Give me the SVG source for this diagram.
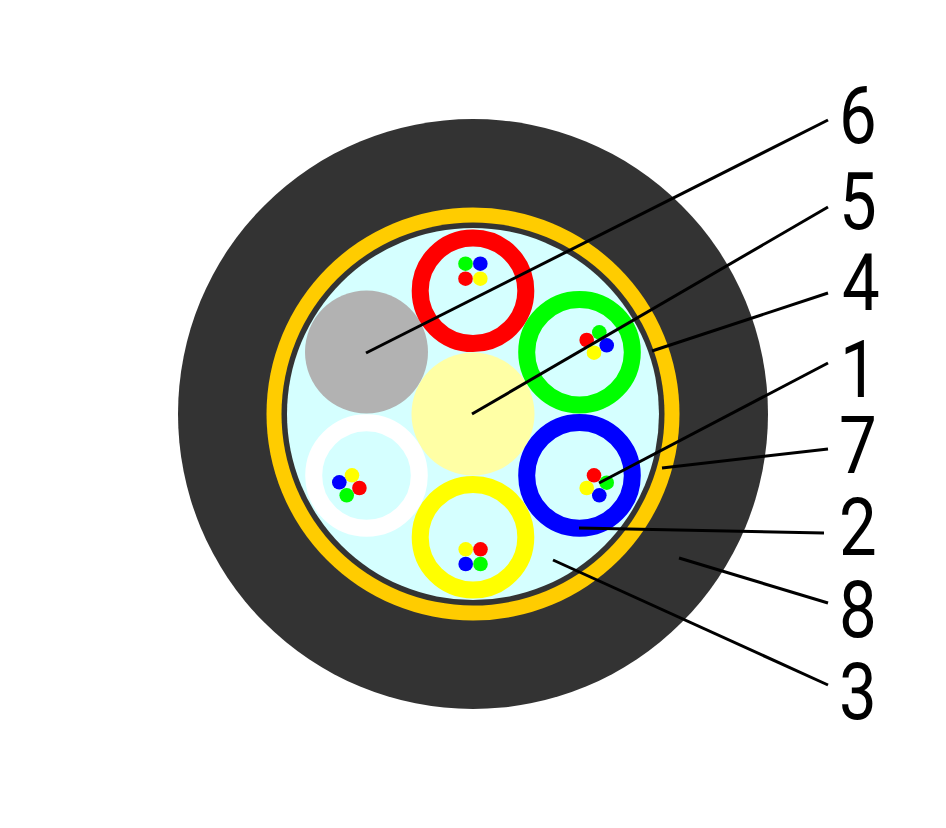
<svg xmlns="http://www.w3.org/2000/svg" width="946" height="828" viewBox="0 0 946 828">
<style>
.ring{fill:#d5ffff;stroke-width:17}
.r{fill:#f00}.g{fill:#0f0}.b{fill:#00f}.y{fill:#ff0}
.l{stroke:#000;stroke-width:3;fill:none}
text{font-family:"Roboto","Liberation Sans",sans-serif;font-weight:400;font-size:80px;fill:#000}
</style>
<rect width="946" height="828" fill="#fff"/>
<g id="sheath"><circle cx="473" cy="414" r="295" fill="#333"/></g>
<g id="armor"><circle cx="473" cy="414" r="206.5" fill="#fc0"/></g>
<g id="inner-sheath"><circle cx="473" cy="414" r="191.5" fill="#333"/></g>
<g id="gel"><circle cx="473" cy="414" r="186" fill="#d5ffff"/></g>
<g id="filler"><circle cx="366.5" cy="352" r="61.5" fill="#b2b2b2"/></g>
<g id="core"><circle cx="473" cy="414" r="61.5" fill="#ffffa5"/></g>
<g id="tube-red"><circle class="ring" cx="473" cy="290.8" r="52.8" stroke="#f00"/>
<circle class="g" cx="465.5" cy="263.7" r="7.3"/><circle class="b" cx="480.3" cy="263.7" r="7.3"/><circle class="r" cx="465.5" cy="278.7" r="7.3"/><circle class="y" cx="480.3" cy="278.7" r="7.3"/></g>
<g id="tube-green"><circle class="ring" cx="579.5" cy="352.2" r="52.8" stroke="#0f0"/>
<circle class="g" cx="599.3" cy="332.3" r="7.3"/><circle class="b" cx="606.7" cy="345.3" r="7.3"/><circle class="y" cx="594" cy="352.7" r="7.3"/><circle class="r" cx="586.7" cy="340" r="7.3"/></g>
<g id="tube-blue"><circle class="ring" cx="579.5" cy="475.4" r="52.8" stroke="#00f"/>
<circle class="g" cx="606.7" cy="482.7" r="7.3"/><circle class="b" cx="599.3" cy="495.3" r="7.3"/><circle class="y" cx="586.7" cy="488" r="7.3"/><circle class="r" cx="594" cy="475.3" r="7.3"/></g>
<g id="tube-yellow"><circle class="ring" cx="473" cy="537.2" r="52.8" stroke="#ff0"/>
<circle class="y" cx="465.7" cy="549.3" r="7.3"/><circle class="r" cx="480.5" cy="549.3" r="7.3"/><circle class="b" cx="465.7" cy="564" r="7.3"/><circle class="g" cx="480.5" cy="564" r="7.3"/></g>
<g id="tube-white"><circle class="ring" cx="366.5" cy="475.5" r="52.8" stroke="#fff"/>
<circle class="y" cx="352" cy="475.3" r="7.3"/><circle class="b" cx="339.3" cy="482.3" r="7.3"/><circle class="r" cx="359.4" cy="488" r="7.3"/><circle class="g" cx="346.7" cy="495.3" r="7.3"/></g>
<g id="connectors">
<line class="l" x1="366" y1="353" x2="828" y2="120"/>
<line class="l" x1="472" y1="414" x2="828" y2="207"/>
<line class="l" x1="652" y1="351" x2="828" y2="293"/>
<line class="l" x1="599" y1="483" x2="828" y2="363"/>
<line class="l" x1="662" y1="468" x2="828" y2="449"/>
<line class="l" x1="579" y1="528" x2="824" y2="533"/>
<line class="l" x1="679" y1="558" x2="828" y2="603"/>
<line class="l" x1="553" y1="560" x2="828" y2="685"/>
</g>
<g id="labels">
<text transform="translate(839,143) scale(.84,1)">6</text>
<text transform="translate(839,229) scale(.84,1)">5</text>
<text transform="translate(842,310) scale(.84,1)">4</text>
<text transform="translate(840,397) scale(.84,1)">1</text>
<text transform="translate(839,473) scale(.84,1)">7</text>
<text transform="translate(839,555) scale(.84,1)">2</text>
<text transform="translate(839,637) scale(.84,1)">8</text>
<text transform="translate(839,719) scale(.84,1)">3</text>
</g>
</svg>
